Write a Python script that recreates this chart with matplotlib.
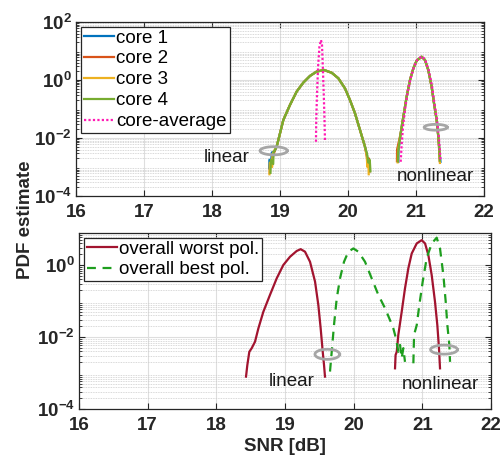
import matplotlib
matplotlib.use("Agg")
import matplotlib.pyplot as plt
import numpy as np
from matplotlib.ticker import FixedLocator, FuncFormatter, LogLocator, NullLocator

plt.rcParams['font.family'] = ['Liberation Sans', 'DejaVu Sans']
plt.rcParams['mathtext.fontset'] = 'custom'
plt.rcParams['mathtext.rm'] = 'Liberation Sans'
plt.rcParams['mathtext.bf'] = 'Liberation Sans:bold'

# ---- data (SNR in dB, PDF as log10) ----
# top panel, shared body of the four per-core curves
lin_body_snr = [18.951, 19.0, 19.049, 19.147, 19.245, 19.343, 19.441, 19.539, 19.647,
                19.760, 19.858, 19.956, 20.029, 20.103, 20.176, 20.25]
lin_body_pdf = [-2.30, -1.84, -1.38, -0.86, -0.40, -0.09, 0.14, 0.29, 0.345,
                0.25, 0.06, -0.29, -0.69, -1.15, -1.72, -2.30]
nl_body_snr = [20.775, 20.814, 20.863, 20.912, 20.961, 21.010, 21.083, 21.132,
               21.181, 21.230, 21.265, 21.304, 21.328]
nl_body_pdf = [-1.84, -1.27, -0.57, 0.0, 0.40, 0.67, 0.80, 0.69, 0.34, -0.23,
               -0.80, -1.38, -1.95]

core_names = ['core 1', 'core 2', 'core 3', 'core 4']
core_colors = ['#0072BD', '#D95319', '#EDB120', '#77AC30']
# noisy tails of each core (snr, log10 pdf)
lin_left_tails = [
    [(18.84, -3.05), (18.845, -2.75), (18.87, -2.8), (18.88, -2.5), (18.92, -2.45)],
    [(18.85, -3.2), (18.855, -2.9), (18.88, -2.9), (18.9, -2.6), (18.93, -2.4)],
    [(18.845, -3.25), (18.85, -2.85), (18.885, -3.0), (18.89, -2.55), (18.935, -2.35)],
    [(18.86, -3.2), (18.865, -2.75), (18.9, -2.9), (18.905, -2.5), (18.94, -2.35)],
]
lin_right_tails = [
    [(20.28, -2.6), (20.29, -2.9), (20.31, -2.85), (20.315, -3.1)],
    [(20.27, -2.55), (20.3, -2.95), (20.305, -2.7), (20.32, -3.15)],
    [(20.275, -2.6), (20.285, -3.0), (20.3, -2.8), (20.305, -3.25)],
    [(20.28, -2.55), (20.3, -2.85), (20.32, -2.75), (20.33, -3.15)],
]
nl_left_tails = [
    [(20.74, -2.82), (20.742, -2.45)],
    [(20.72, -2.8), (20.722, -2.4)],
    [(20.73, -2.84), (20.735, -2.45)],
    [(20.735, -2.8), (20.74, -2.41)],
]
nl_right_tails = [
    [(21.345, -2.4), (21.36, -2.82)],
    [(21.34, -2.4), (21.35, -2.8)],
    [(21.345, -2.45), (21.352, -2.86)],
    [(21.343, -2.41), (21.35, -2.78)],
]

avg_lin_snr = [19.529, 19.533, 19.545, 19.560, 19.580, 19.603, 19.618, 19.632, 19.645, 19.655, 19.662]
avg_lin_pdf = [-2.13, -1.38, -0.45, 0.45, 1.15, 1.38, 1.2, 0.3, -0.6, -1.4, -2.13]
avg_nl_snr = [20.775, 20.79, 20.81, 20.84, 20.875, 20.92, 20.97, 21.02, 21.085, 21.135,
              21.185, 21.235, 21.27, 21.31, 21.335, 21.35, 21.36]
avg_nl_pdf = [-2.82, -2.2, -1.6, -1.0, -0.45, 0.05, 0.45, 0.7, 0.82, 0.7, 0.35, -0.2,
              -0.8, -1.4, -1.95, -2.4, -2.75]

# bottom panel
worst_lin_snr = [18.432, 18.451, 18.480, 18.515, 18.563, 18.612, 18.684, 18.781, 18.879,
                 18.975, 19.073, 19.170, 19.228, 19.291, 19.364, 19.437, 19.485, 19.519,
                 19.549, 19.568, 19.582]
worst_lin_pdf = [-3.10, -2.78, -2.41, -2.31, -2.13, -1.76, -1.30, -0.83, -0.37, 0.0, 0.23,
                 0.39, 0.44, 0.37, 0.09, -0.46, -1.11, -1.76, -2.41, -2.78, -3.10]
worst_nl_snr = [20.602, 20.610, 20.627, 20.650, 20.699, 20.747, 20.796, 20.845, 20.918,
                20.990, 21.039, 21.087, 21.136, 21.184, 21.218, 21.242, 21.257]
worst_nl_pdf = [-2.87, -2.5, -2.41, -1.94, -1.30, -0.65, -0.09, 0.32, 0.60, 0.69, 0.60,
                0.28, -0.28, -1.02, -1.67, -2.31, -2.87]
best_lin_snr = [19.655, 19.680, 19.713, 19.753, 19.801, 19.859, 19.922, 19.995, 20.068,
                20.165, 20.262, 20.359, 20.456, 20.529, 20.577, 20.616, 20.650, 20.675,
                20.699, 20.723, 20.747]
best_lin_pdf = [-2.96, -2.41, -1.67, -0.93, -0.37, 0.09, 0.37, 0.46, 0.37, 0.09, -0.37,
                -0.83, -1.20, -1.53, -1.76, -2.04, -2.41, -2.22, -2.59, -2.31, -2.69]
best_nl_snr = [20.869, 20.879, 20.918, 20.956, 21.005, 21.063, 21.136, 21.209, 21.257,
               21.306, 21.340, 21.364, 21.393, 21.403]
best_nl_pdf = [-2.73, -1.94, -1.67, -1.11, -0.46, 0.19, 0.60, 0.76, 0.46, -0.28, -1.02,
               -1.67, -2.22, -2.69]

# marker rings: (centre snr, centre log10 pdf, width dB, height decades)
top_rings = [(18.907, -2.44, 0.40, 0.28), (21.29, -1.63, 0.34, 0.20)]
bot_rings = [(19.616, -2.48, 0.36, 0.28), (21.315, -2.35, 0.39, 0.25)]
top_notes = [('linear', 18.21, -2.66), ('nonlinear', 21.28, -3.34)]
bot_notes = [('linear', 19.10, -3.24), ('nonlinear', 21.27, -3.33)]


def ring(ax, x0, ly0, w, h):
    t = np.linspace(0, 2 * np.pi, 100)
    ax.plot(x0 + w / 2 * np.cos(t), 10 ** (ly0 + h / 2 * np.sin(t)),
            color='#a6a6a6', lw=2, zorder=5)


def style(ax, ymax, yticks):
    ax.set_yscale('log')
    ax.set_xlim(16, 22)
    ax.set_ylim(1e-4, ymax)
    ax.xaxis.set_major_locator(FixedLocator(range(16, 23)))
    ax.xaxis.set_minor_locator(NullLocator())
    ax.yaxis.set_major_locator(FixedLocator(yticks))
    ax.yaxis.set_minor_locator(LogLocator(subs=np.arange(2, 10), numticks=30))
    ax.yaxis.set_major_formatter(FuncFormatter(
        lambda v, p: r'$\mathbf{10^{%d}}$' % round(np.log10(v))))
    ax.xaxis.set_major_formatter(FuncFormatter(lambda v, p: '%d' % v))
    for lab in ax.get_xticklabels():
        lab.set_fontweight('bold')
    ax.tick_params(which='both', direction='in', top=True, right=True,
                   labelsize=13.5, colors='#262626', pad=3)
    ax.tick_params(axis='x', which='major', pad=6)
    ax.tick_params(which='major', length=4)
    ax.tick_params(which='minor', length=2)
    ax.grid(which='major', color='#dedede', lw=0.8)
    ax.grid(which='minor', axis='y', color='#cccccc', lw=0.6, ls=(0, (1, 1)))
    ax.set_axisbelow(True)
    for s in ax.spines.values():
        s.set_color('#262626')
        s.set_linewidth(0.9)


fig = plt.figure(figsize=(5.03, 4.57), dpi=100)
ax1 = fig.add_axes([0.1511, 0.5711, 0.8111, 0.3808])
ax2 = fig.add_axes([0.1571, 0.1050, 0.8191, 0.3852])

for i in range(4):
    lx = [p[0] for p in lin_left_tails[i]] + lin_body_snr + [p[0] for p in lin_right_tails[i]]
    ly = [p[1] for p in lin_left_tails[i]] + lin_body_pdf + [p[1] for p in lin_right_tails[i]]
    nx = [p[0] for p in nl_left_tails[i]] + nl_body_snr + [p[0] for p in nl_right_tails[i]]
    ny = [p[1] for p in nl_left_tails[i]] + nl_body_pdf + [p[1] for p in nl_right_tails[i]]
    ax1.plot(lx, 10 ** np.array(ly), color=core_colors[i], lw=1.6, label=core_names[i])
    ax1.plot(nx, 10 ** np.array(ny), color=core_colors[i], lw=1.6)
ax1.plot(avg_lin_snr, 10 ** np.array(avg_lin_pdf), color='#FF1AB4', lw=1.6,
         ls=(0, (1, 1)), label='core-average')
ax1.plot(avg_nl_snr, 10 ** np.array(avg_nl_pdf), color='#FF1AB4', lw=1.6, ls=(0, (1, 1)))

ax2.plot(worst_lin_snr, 10 ** np.array(worst_lin_pdf), color='#A2142F', lw=1.6,
         label='overall worst pol.')
ax2.plot(worst_nl_snr, 10 ** np.array(worst_nl_pdf), color='#A2142F', lw=1.6)
ax2.plot(best_lin_snr, 10 ** np.array(best_lin_pdf), color='#1E9E1E', lw=1.6,
         ls=(0, (4, 3)), label='overall best pol.')
ax2.plot(best_nl_snr, 10 ** np.array(best_nl_pdf), color='#1E9E1E', lw=1.6, ls=(0, (4, 3)))

style(ax1, 100, [1e-4, 1e-2, 1e0, 1e2])
style(ax2, 10 ** 0.89, [1e-4, 1e-2, 1e0])

for ax, rings, notes in [(ax1, top_rings, top_notes), (ax2, bot_rings, bot_notes)]:
    for r in rings:
        ring(ax, *r)
    for txt, x, ly in notes:
        ax.text(x, 10 ** ly, txt, fontsize=13.5, ha='center', va='center', color='#1a1a1a')

leg_kw = dict(loc='upper left', fontsize=13.5, handlelength=1.6, handletextpad=0.15,
              labelspacing=0.2, borderpad=0.15, borderaxespad=0.25, fancybox=False,
              framealpha=1, edgecolor='#262626')
l1 = ax1.legend(**leg_kw)
l2 = ax2.legend(**leg_kw)
for lg in (l1, l2):
    lg.get_frame().set_linewidth(0.9)

fig.text(0.05, 0.519, 'PDF estimate', rotation=90, fontsize=13.5, fontweight='bold',
         ha='center', va='center', color='#262626')
fig.text(0.567, 0.022, 'SNR [dB]', fontsize=13.5, fontweight='bold', ha='center',
         va='center', color='#262626')

fig.savefig('out.png', dpi=100)
